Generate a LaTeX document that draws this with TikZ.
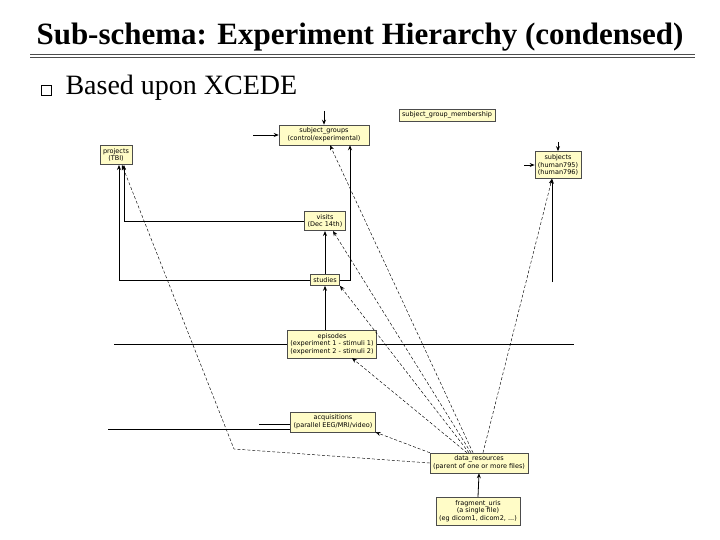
\documentclass[tikz,border=0pt]{standalone}
\usepackage{fontspec}
\setmainfont{Liberation Serif}
\newfontfamily\boxfont{DejaVu Sans}
\usetikzlibrary{arrows.meta}
\begin{document}
\begin{tikzpicture}[x=1pt,y=-1pt,
  tbl/.style={fill=yellow!22, draw=black!70, line width=0.5pt, inner xsep=3pt, inner ysep=3pt, align=center, font=\boxfont\fontsize{6.5}{7.7}\selectfont},
  rel/.style={line width=0.8pt, -{Stealth[length=5pt,width=4pt]}},
  fk/.style={line width=0.45pt, densely dashed, -{Stealth[length=5pt,width=4pt]}},
  plain/.style={line width=0.8pt}]
\useasboundingbox (0,0) rectangle (720,540);
\node[anchor=west, font=\bfseries\fontsize{31}{33}\selectfont] (title) at (33,37) {Sub-schema: Experiment Hierarchy (condensed)};
\draw[line width=0.6pt, black!70] (30,54) -- (695,54) (30,57) -- (695,57);
\node[draw, line width=0.7pt, minimum size=10pt, inner sep=0pt] (bul) at (46,90) {};
\node[anchor=west, font=\fontsize{28}{30}\selectfont] (sub) at (62,88) {Based upon XCEDE};

\node[tbl] (sgm) at (447,115) {subject\_group\_membership};
\node[tbl, minimum width=90pt] (sg) at (324,135) {subject\_groups\\(control/experimental)};
\node[tbl] (proj) at (116,155) {projects\\(TBI)};
\node[tbl] (subj) at (558,165) {subjects\\(human795)\\(human796)};
\node[tbl] (vis) at (325,221) {visits\\(Dec 14th)};
\node[tbl] (stud) at (325,280) {studies};
\node[tbl] (epi) at (332,344) {episodes\\(experiment 1 - stimuli 1)\\(experiment 2 - stimuli 2)};
\node[tbl] (acq) at (333,422) {acquisitions\\(parallel EEG/MRI/video)};
\node[tbl] (dr) at (479,463) {data\_resources\\(parent of one or more files)};
\node[tbl] (fu) at (478,511) {fragment\_uris\\(a single file)\\(eg dicom1, dicom2, ...)};

\coordinate (l1) at (114,344); \coordinate (r1) at (574,344);
\coordinate (l2) at (108,429); \coordinate (l3) at (259,424);
\coordinate (t1) at (324,111); \coordinate (t2) at (253,135);
\coordinate (t3) at (558,142); \coordinate (t4) at (524,165);
\coordinate (sb) at (552,282); \coordinate (bend) at (234,449);

\draw[plain] (l1) -- (epi.west); \draw[plain] (epi.east) -- (r1);
\draw[plain] (l2) -- (acq.west |- l2); \draw[plain] (l3) -- (acq.west |- l3);
\draw[rel] (t1) -- (sg.north);
\draw[rel] (t2) -- (sg.west);
\draw[rel] (t3) -- (subj.north);
\draw[rel] (t4) -- (subj.west);
\draw[rel] (sb) -- (subj.south -| sb);
\draw[rel] (stud.north) -- (vis.south);
\draw[rel] (stud.east) -| (sg.south -| 350,0);
\draw[rel] (stud.west) -| (proj.south -| 119,0);
\draw[rel] (vis.west) -| (proj.south -| 124,0);
\draw[rel] (epi.north -| stud) -- (stud.south);
\draw[rel] (fu.north) -- (dr.south);
\draw[fk] (dr.west) -- (bend) -- (proj.south -| 122,0);
\draw[fk] (dr.north west) -- (acq.south east);
\draw[fk] ([xshift=-12pt]dr.north) -- ([xshift=20pt]epi.south);
\draw[fk] ([xshift=-10pt]dr.north) -- (stud.south east);
\draw[fk] ([xshift=-8pt]dr.north) -- ([xshift=8pt]vis.south);
\draw[fk] ([xshift=-6pt]dr.north) -- ([xshift=6pt]sg.south);
\draw[fk] ([xshift=4pt]dr.north) -- (subj.south -| 552,0);
\end{tikzpicture}
\end{document}
